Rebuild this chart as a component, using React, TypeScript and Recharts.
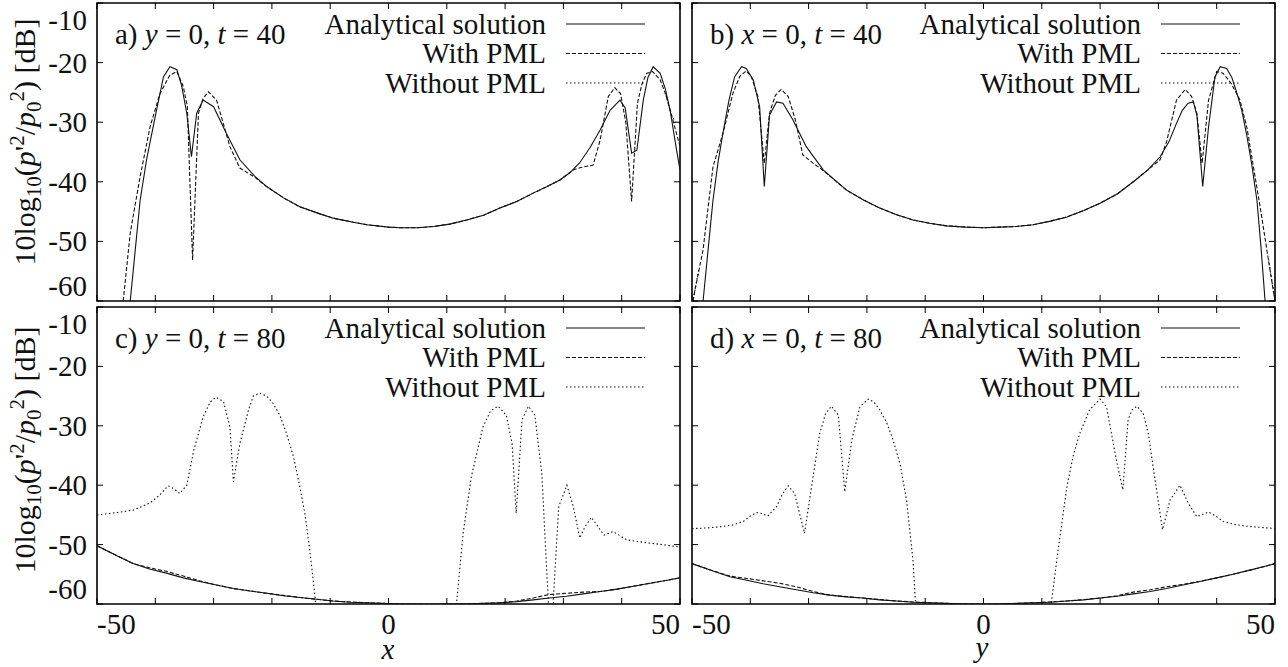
import React from "react";
import { LineChart, Line, XAxis, YAxis, ReferenceArea } from "recharts";

const FONT = "Liberation Serif";
const W = 1288;
const H = 667;
const XH = 20;
const YW = 20;
const TICK = 6;
const FS = 29;

const xTicks = [-50, -40, -30, -20, -10, 0, 10, 20, 30, 40, 50];
const xLabelled = [-50, 0, 50];
const yTicks = [-60, -50, -40, -30, -20, -10];
const seriesNames = ["Analytical solution", "With PML", "Without PML"];
const dashes = [undefined, "4 2", "1.5 2.5"];

// a) y = 0, t = 40
const analyticA = [
  [-45.3, -70], [-44.3, -60], [-42.6, -43.1], [-41.5, -36.3], [-39.8, -28], [-38.6, -22.4],
  [-37.5, -20.7], [-36.3, -21.2], [-35.5, -23.8], [-34.6, -28.5], [-33.8, -35.8], [-32.9, -28.5],
  [-31.8, -26.3], [-30, -27.4], [-27.8, -31.9], [-25.5, -36.3], [-23, -39], [-20.9, -40.8],
  [-18, -42.7], [-15.2, -44.2], [-12, -45.3], [-9.5, -46.1], [-6, -46.8], [-3.7, -47.2],
  [0, -47.6], [2, -47.7], [5, -47.7], [7.7, -47.5], [10.5, -47.1], [13.4, -46.4], [16.3, -45.6],
  [19.1, -44.4], [22, -43.3], [24.8, -41.9], [27.2, -40.8], [29.4, -39.7], [31.2, -38.4],
  [32.8, -36.8], [34.6, -34.2], [36.3, -31.3], [38, -28], [39.7, -26.3], [40.6, -27.6],
  [41.7, -35.2], [42.6, -34.7], [43.7, -26.3], [44.5, -22.5], [45.4, -20.7], [46.6, -21.8],
  [47.5, -24.5], [48.3, -28], [49.5, -35.2], [50, -38],
];
const pmlA = [
  [-46.5, -70], [-45.5, -60], [-44.3, -48.6], [-42.6, -39.1], [-40.9, -30.8], [-39.2, -25.2],
  [-37.5, -22.1], [-36.3, -21.5], [-35.2, -24], [-34.5, -27.4], [-33.6, -53.1], [-32.6, -28.5],
  [-31.8, -26], [-30.9, -24.9], [-29.5, -26.3], [-28.4, -30], [-27.2, -34.1], [-25.5, -37.7],
  [-23, -39.2], [-20.9, -40.8], [-18, -42.7], [-15.2, -44.2], [-12, -45.3], [-9.5, -46.1],
  [-6, -46.8], [-3.7, -47.2], [0, -47.6], [2, -47.7], [5, -47.7], [7.7, -47.5], [10.5, -47.1],
  [13.4, -46.4], [16.3, -45.6], [19.1, -44.4], [22, -43.3], [24.8, -41.9], [27.2, -40.8],
  [29.4, -39.7], [31.7, -38], [33, -37.6], [35.1, -37.2], [36.3, -33], [37.7, -25.7],
  [38.8, -24.2], [39.8, -25.2], [40.7, -30], [41.7, -43.3], [42.7, -26.8], [43.5, -23.5],
  [44.3, -21.8], [45.3, -21.5], [46.6, -22.9], [47.6, -25.5], [48.6, -29], [49.7, -33], [50, -34],
];
const noPmlA = [[47.6, -25.5], [48.6, -29], [49.2, -30], [50, -30.2]];

// b) x = 0, t = 40
const analyticB = [
  [-49, -70], [-48.1, -60], [-47.2, -51], [-46.4, -43.1], [-45.5, -36.5], [-44.7, -31.9],
  [-43.7, -26.5], [-42.7, -22.4], [-41.5, -20.7], [-40.7, -21], [-39.5, -22.9], [-38.4, -27.4],
  [-37.6, -40.8], [-36.7, -28.8], [-35.5, -26.6], [-34.4, -26.8], [-32.7, -29.6], [-30.4, -34.1],
  [-27.5, -38], [-23.5, -41.4], [-20.5, -43.1], [-17.8, -44.4], [-15, -45.5], [-12.1, -46.4],
  [-9, -47], [-6.3, -47.4], [-3, -47.6], [0, -47.7], [2.8, -47.6], [5.5, -47.5], [8.5, -47.2],
  [11.5, -46.6], [14.3, -45.9], [17.2, -44.8], [20, -43.6], [23, -42], [25.7, -40], [28.2, -38],
  [30.3, -35.8], [31.8, -33.3], [33.1, -30.2], [34.1, -28], [35.1, -26.8], [36, -26.6],
  [36.6, -28.8], [37.6, -40.8], [38.6, -30.8], [39.7, -22.4], [40.6, -20.7], [41.7, -21],
  [42.6, -22.5], [43.4, -24.9], [44.3, -28], [45.1, -31.9], [46, -37], [46.9, -43.1],
  [47.6, -51], [48.3, -60], [49, -70],
];
const pmlB = [
  [-50, -61], [-49.5, -58.2], [-48.1, -51.4], [-47.2, -44], [-46.4, -37.5], [-44.7, -31.9],
  [-43, -25.2], [-41.8, -22.3], [-40.7, -21.4], [-39.8, -22.4], [-38.7, -25.7], [-37.6, -36.9],
  [-36.7, -28.5], [-35.7, -25.5], [-34.7, -24.5], [-33.5, -25.7], [-32.3, -29.5], [-31, -35.5],
  [-29.2, -36.9], [-27.5, -38.1], [-23.5, -41.4], [-20.5, -43.1], [-17.8, -44.4], [-15, -45.5],
  [-12.1, -46.4], [-9, -47], [-6.3, -47.4], [-3, -47.6], [0, -47.7], [2.8, -47.6], [5.5, -47.5],
  [8.5, -47.2], [11.5, -46.6], [14.3, -45.9], [17.2, -44.8], [20, -43.6], [23, -42], [25.7, -40],
  [28.2, -38], [30.3, -36.3], [31.4, -33.3], [33.1, -26.3], [34.6, -24.5], [35.7, -25.7],
  [36.6, -28.5], [37.5, -36.9], [38.6, -26.3], [40, -21.5], [41.1, -21.8], [42.5, -23.5],
  [44, -26.3], [45.2, -31], [46.3, -37.5], [47.5, -44.5], [48.6, -51.4], [49.7, -58.2], [50, -60],
];
const noPmlB = [
  [-50, -61], [-49.5, -58.2], [-48.8, -54.5], [null, null],
  [48.9, -53], [49.7, -58.2], [50, -60],
];

// c) y = 0, t = 80
const analyticC = [
  [-50, -50.2], [-46.5, -51.9], [-43.8, -53.2], [-41, -54.1], [-38.1, -54.8], [-35.2, -55.6],
  [-32.4, -56.2], [-29.5, -56.8], [-26.6, -57.4], [-23.7, -57.8], [-20.9, -58.2], [-18, -58.6],
  [-15.2, -58.9], [-12.3, -59.2], [-9.5, -59.5], [-6.6, -59.7], [-3.7, -59.8], [-1, -59.9],
  [2, -60], [5, -60.05], [7.6, -60.05], [10.5, -60], [13.4, -60], [16.3, -59.9], [19.1, -59.8],
  [22, -59.6], [24.8, -59.3], [27.6, -59], [30.5, -58.7], [33.4, -58.3], [36.3, -57.9],
  [39.2, -57.5], [42, -57], [44.9, -56.5], [47.8, -56], [50, -55.6],
];
const pmlC = [
  [-50, -50.2], [-46.5, -51.9], [-43.8, -53.2], [-41, -53.9], [-38.1, -54.5], [-35.2, -55.3],
  [-32.4, -56.1], [-29.5, -56.8], [-26.6, -57.4], [-20.9, -58.2], [-15.2, -58.9], [-9.5, -59.5],
  [-3.7, -59.8], [2, -60], [7.6, -60.05], [13.4, -60], [19.1, -59.8], [22, -59.5], [24.8, -59],
  [27.6, -58.4], [30.5, -58.2], [33.4, -58], [36.3, -57.9], [39.2, -57.5], [42, -57],
  [44.9, -56.5], [47.8, -56], [50, -55.6],
];
const noPmlC = [
  [-50, -45], [-46.5, -44.6], [-43.8, -44.2], [-40.9, -43], [-39.2, -41.6], [-37.8, -40.1],
  [-36.8, -40.6], [-35.8, -41.4], [-34.6, -40], [-33.4, -34.1], [-31.8, -28.5], [-30.6, -26],
  [-29.6, -25.2], [-28.3, -25.9], [-27.2, -30.2], [-26.6, -39.4], [-25.5, -33], [-24, -27.3],
  [-23.2, -25], [-22.1, -24.5], [-20.9, -25], [-19.8, -26.2], [-18.6, -28.3], [-17.5, -31.3],
  [-16.3, -35.2], [-15.2, -40.3], [-14.3, -45], [-13.5, -50.9], [-12.6, -58.8], [-12, -66],
  [-11.5, -75], [11, -75], [11.7, -59.6], [12.8, -48.1], [14.2, -38.6], [16.2, -30.2],
  [17.5, -27.5], [18.8, -26.7], [20.2, -28.2], [21.2, -33], [21.9, -44.7], [22.9, -29],
  [24, -26.7], [25.1, -28.2], [26.3, -38], [27.1, -53.7], [27.4, -59.3], [27.7, -68], [28, -68],
  [28.3, -58.8], [29.2, -43.6], [30.6, -40], [31.7, -43.6], [32.8, -48.9], [33.7, -47],
  [34.8, -45.4], [36.3, -47.5], [37, -48.4], [38.5, -47.8], [40.9, -49.2], [44.3, -49.7],
  [47, -50], [50, -50.4],
];

// d) x = 0, t = 80
const analyticD = [
  [-50, -53.2], [-46.5, -54.4], [-43.5, -55.4], [-40.6, -56], [-37.8, -56.6], [-35, -57.1],
  [-32.1, -57.6], [-29.2, -58.1], [-26.4, -58.5], [-23.5, -58.8], [-20.7, -59], [-17.8, -59.3],
  [-14.9, -59.5], [-12, -59.7], [-9.2, -59.8], [-6.3, -59.9], [-3.5, -60], [0, -60.05],
  [2.8, -60], [5.6, -59.9], [8.5, -59.8], [11.4, -59.7], [14.3, -59.5], [17.2, -59.3], [20, -59],
  [22.9, -58.7], [25.7, -58.3], [28.6, -57.9], [31.4, -57.4], [34.2, -56.8], [37.1, -56.2],
  [40, -55.6], [42.8, -55], [45.7, -54.3], [48.5, -53.6], [50, -53.2],
];
const pmlD = [
  [-50, -53.2], [-46.5, -54.4], [-43.5, -55.3], [-40.6, -55.7], [-37.8, -56.1], [-35, -56.5],
  [-32.1, -57.1], [-29.2, -57.9], [-26.4, -58.5], [-20.7, -59], [-14.9, -59.5], [-9.2, -59.8],
  [-3.5, -60], [2.8, -60], [8.5, -59.8], [14.3, -59.5], [20, -59], [22.9, -58.6], [25.7, -58],
  [28.6, -57.6], [31.4, -57.1], [34.2, -56.7], [37.1, -56.2], [40, -55.6], [42.8, -55],
  [45.7, -54.3], [48.5, -53.6], [50, -53.2],
];
const noPmlD = [
  [-50, -47.3], [-47.5, -47.2], [-45.2, -47], [-43, -46.7], [-41.2, -46.1], [-40, -45.2],
  [-38.9, -44.6], [-37.9, -44.8], [-37, -45.2], [-35.5, -43.6], [-34.5, -41.5], [-33.5, -40.1],
  [-32.4, -41.4], [-30.7, -48.1], [-29.5, -40.3], [-28.1, -31.3], [-27.1, -28], [-26.1, -26.7],
  [-24.9, -28.2], [-23.8, -41.1], [-22.6, -32.4], [-21.2, -26.8], [-19.8, -25.5], [-18.8, -26],
  [-17.8, -27.3], [-16.6, -29.5], [-15.5, -32.4], [-14.3, -36.5], [-13.2, -42.5], [-12.1, -52.6],
  [-11.7, -59.3], [-11, -75], [11, -75], [11.7, -59.3], [12.8, -50.9], [14.3, -40.3], [15.4, -35],
  [16.5, -31.3], [18.2, -27.3], [20, -25.5], [21.1, -26.8], [22.8, -35.8], [23.9, -40.8],
  [24.8, -29], [25.5, -27.3], [26.3, -26.7], [27.4, -27.9], [28.3, -31.5], [29.1, -36.9],
  [30.7, -47.5], [32, -42.5], [33.7, -40], [35.1, -43], [36.6, -45.3], [38.6, -44.5], [40, -45.3],
  [41.1, -46.1], [43, -46.6], [45.1, -46.9], [47.5, -47.1], [50, -47.3],
];

type Panel = {
  left: number;
  top: number;
  right: number;
  bottom: number;
  series: number[][][];
  xLabels: boolean;
  yLabels: boolean;
  tag: string;
  fixedVar: string;
  time: string;
};

const panels: Panel[] = [
  { left: 97, top: 3, right: 680, bottom: 301, series: [analyticA, pmlA, noPmlA], xLabels: false, yLabels: true, tag: "a) ", fixedVar: "y", time: "40" },
  { left: 692, top: 3, right: 1275, bottom: 301, series: [analyticB, pmlB, noPmlB], xLabels: false, yLabels: false, tag: "b) ", fixedVar: "x", time: "40" },
  { left: 97, top: 307, right: 680, bottom: 604, series: [analyticC, pmlC, noPmlC], xLabels: true, yLabels: true, tag: "c) ", fixedVar: "y", time: "80" },
  { left: 692, top: 307, right: 1275, bottom: 604, series: [analyticD, pmlD, noPmlD], xLabels: true, yLabels: false, tag: "d) ", fixedVar: "x", time: "80" },
];

const toPts = (arr: number[][]) => arr.map(([x, v]) => ({ x, v }));
const txt = { fontSize: FS, fontFamily: FONT };

function renderXTick(props: any, p: Panel) {
  const cx = props.payload.coordinate;
  const val = props.payload.value;
  const anchor = val === -50 ? "start" : val === 50 ? "end" : "middle";
  return (
    <g key={`xt-${val}`}>
      <line x1={cx} x2={cx} y1={p.bottom} y2={p.bottom - TICK} stroke="#000" strokeWidth={1} />
      <line x1={cx} x2={cx} y1={p.top} y2={p.top + TICK} stroke="#000" strokeWidth={1} />
      {p.xLabels && xLabelled.includes(val) && (
        <text x={cx} y={p.bottom + 30} textAnchor={anchor} style={txt} fill="#111">
          {val}
        </text>
      )}
    </g>
  );
}

function renderYTick(props: any, p: Panel) {
  const cy = props.payload.coordinate;
  const val = props.payload.value;
  const shift = val === -10 ? 17 : val === -60 ? -15 : 0;
  return (
    <g key={`yt-${val}`}>
      <line x1={p.left} x2={p.left + TICK} y1={cy} y2={cy} stroke="#000" strokeWidth={1} />
      <line x1={p.right} x2={p.right - TICK} y1={cy} y2={cy} stroke="#000" strokeWidth={1} />
      {p.yLabels && (
        <text x={p.left - 10} y={cy + 10 + shift} textAnchor="end" style={txt} fill="#111">
          {val}
        </text>
      )}
    </g>
  );
}

function PanelChart({ p }: { p: Panel }) {
  return (
    <div style={{ position: "absolute", left: 0, top: 0 }}>
      <LineChart
        width={W}
        height={H}
        margin={{ top: p.top, right: W - p.right, bottom: H - p.bottom - XH, left: p.left - YW }}
      >
        <XAxis
          type="number"
          dataKey="x"
          domain={[-50, 50]}
          ticks={xTicks}
          interval={0}
          allowDataOverflow
          axisLine={false}
          tickLine={false}
          height={XH}
          tick={(props: any) => renderXTick(props, p)}
        />
        <YAxis
          type="number"
          domain={[-60, -10]}
          ticks={yTicks}
          interval={0}
          allowDataOverflow
          axisLine={false}
          tickLine={false}
          width={YW}
          tick={(props: any) => renderYTick(props, p)}
        />
        {p.series.map((s, i) => (
          <Line
            key={seriesNames[i]}
            data={toPts(s)}
            dataKey="v"
            type="linear"
            dot={false}
            activeDot={false}
            stroke="#111"
            strokeWidth={1.1}
            strokeDasharray={dashes[i]}
            isAnimationActive={false}
          />
        ))}
        <ReferenceArea x1={-50} x2={50} y1={-60} y2={-10} fill="none" stroke="#000" strokeWidth={1.6} />
      </LineChart>
    </div>
  );
}

function YTitle({ x, y }: { x: number; y: number }) {
  return (
    <text transform={`translate(${x},${y}) rotate(-90)`} textAnchor="middle" style={{ fontSize: 30, fontFamily: FONT }} fill="#111">
      10log
      <tspan fontSize={21} dy={6}>10</tspan>
      <tspan dy={-6}>(</tspan>
      <tspan fontStyle="italic">p</tspan>
      <tspan>'</tspan>
      <tspan fontSize={21} dy={-11}>2</tspan>
      <tspan dy={11}>/</tspan>
      <tspan fontStyle="italic">p</tspan>
      <tspan fontSize={21} dy={6}>0</tspan>
      <tspan fontSize={21} dy={-17}>2</tspan>
      <tspan dy={11}>) [dB]</tspan>
    </text>
  );
}

const legendRows = [21, 50.5, 80];

function Overlay() {
  return (
    <svg width={W} height={H} style={{ position: "absolute", left: 0, top: 0, pointerEvents: "none" }}>
      {panels.map((p) => (
        <g key={p.tag}>
          <text x={p.left + 18} y={p.top + 41} style={txt} fill="#111">
            {p.tag}
            <tspan fontStyle="italic">{p.fixedVar}</tspan>
            {" = 0, "}
            <tspan fontStyle="italic">t</tspan>
            {` = ${p.time}`}
          </text>
          {seriesNames.map((name, i) => (
            <g key={name}>
              <text x={p.right - 134} y={p.top + legendRows[i] + 9.5} textAnchor="end" style={txt} fill="#111">
                {name}
              </text>
              <line
                x1={p.right - 114}
                x2={p.right - 35}
                y1={p.top + legendRows[i]}
                y2={p.top + legendRows[i]}
                stroke="#111"
                strokeWidth={1.1}
                strokeDasharray={dashes[i]}
              />
            </g>
          ))}
        </g>
      ))}
      <YTitle x={35} y={142} />
      <YTitle x={35} y={450} />
      <text x={388} y={659} textAnchor="middle" fontStyle="italic" style={txt} fill="#111">
        x
      </text>
      <text x={982} y={657} textAnchor="middle" fontStyle="italic" style={txt} fill="#111">
        y
      </text>
    </svg>
  );
}

export default function App() {
  return (
    <div style={{ position: "absolute", left: 0, top: 0, width: W, height: H, background: "#fff", overflow: "hidden", fontFamily: FONT }}>
      {panels.map((p) => (
        <PanelChart key={p.tag} p={p} />
      ))}
      <Overlay />
    </div>
  );
}
